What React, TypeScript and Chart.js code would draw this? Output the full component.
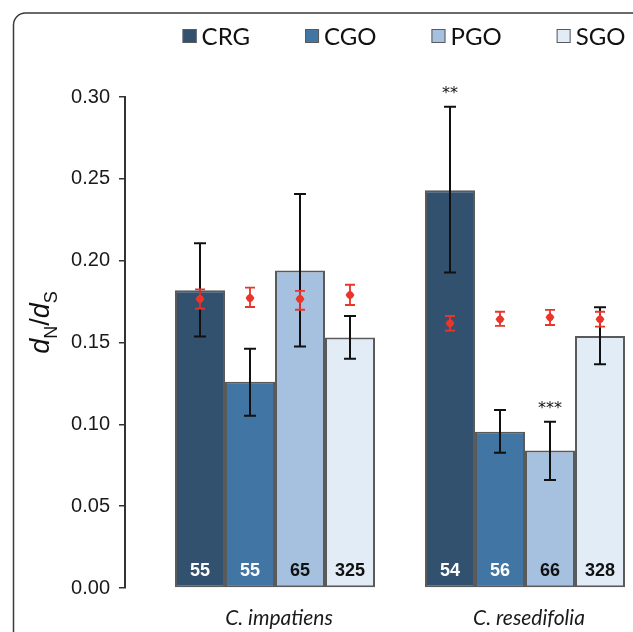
import React, { useEffect, useRef } from 'react';
import { Chart, registerables } from 'chart.js';

Chart.register(...registerables);

// ---- data ----
const categories = ['C. impatiens', 'C. resedifolia'];
const groupPositions = [1, 2];
const seriesNames = ['CRG', 'CGO', 'PGO', 'SGO'];
const seriesColors = ['#32516F', '#4175A4', '#A5C1DF', '#E2ECF6'];
const countColors = ['#FFFFFF', '#FFFFFF', '#111111', '#111111'];

const crgValues = [0.182, 0.243];
const cgoValues = [0.126, 0.0955];
const pgoValues = [0.194, 0.084];
const sgoValues = [0.153, 0.154];

const crgErrLow = [0.1536, 0.1927];
const crgErrHigh = [0.2106, 0.294];
const cgoErrLow = [0.1053, 0.0827];
const cgoErrHigh = [0.1462, 0.1088];
const pgoErrLow = [0.1475, 0.066];
const pgoErrHigh = [0.2407, 0.1016];
const sgoErrLow = [0.14, 0.1367];
const sgoErrHigh = [0.1662, 0.1715];

const crgNeutral = [0.1766, 0.1617];
const cgoNeutral = [0.1772, 0.1642];
const pgoNeutral = [0.1766, 0.1654];
const sgoNeutral = [0.179, 0.1642];
const crgNeutralLow = [0.1707, 0.1572];
const crgNeutralHigh = [0.1825, 0.1662];
const cgoNeutralLow = [0.1717, 0.1601];
const cgoNeutralHigh = [0.1835, 0.1688];
const pgoNeutralLow = [0.17, 0.1607];
const pgoNeutralHigh = [0.1815, 0.1699];
const sgoNeutralLow = [0.1729, 0.1597];
const sgoNeutralHigh = [0.1853, 0.1688];

const crgCounts = [55, 54];
const cgoCounts = [55, 56];
const pgoCounts = [65, 66];
const sgoCounts = [325, 328];

const crgSignif = ['', '**'];
const cgoSignif = ['', ''];
const pgoSignif = ['', '***'];
const sgoSignif = ['', ''];

const yMin = 0;
const yMax = 0.3;
const yStep = 0.05;

const seriesValues = [crgValues, cgoValues, pgoValues, sgoValues];
const seriesErrLow = [crgErrLow, cgoErrLow, pgoErrLow, sgoErrLow];
const seriesErrHigh = [crgErrHigh, cgoErrHigh, pgoErrHigh, sgoErrHigh];
const seriesNeutral = [crgNeutral, cgoNeutral, pgoNeutral, sgoNeutral];
const seriesNeutralLow = [crgNeutralLow, cgoNeutralLow, pgoNeutralLow, sgoNeutralLow];
const seriesNeutralHigh = [crgNeutralHigh, cgoNeutralHigh, pgoNeutralHigh, sgoNeutralHigh];
const seriesCounts = [crgCounts, cgoCounts, pgoCounts, sgoCounts];
const seriesSignif = [crgSignif, cgoSignif, pgoSignif, sgoSignif];

const framePlugin = {
  id: 'frame',
  beforeDraw(chart: any) {
    const ctx = chart.ctx;
    ctx.save();
    ctx.fillStyle = '#FFFFFF';
    ctx.fillRect(0, 0, chart.width, chart.height);
    ctx.strokeStyle = '#3A3A3A';
    ctx.lineWidth = 1.5;
    const x = 13.5, y = 13, r = 12, w = chart.width + 40, h = chart.height + 40;
    ctx.beginPath();
    ctx.moveTo(x + r, y);
    ctx.lineTo(x + w, y);
    ctx.moveTo(x, y + h);
    ctx.lineTo(x, y + r);
    ctx.arcTo(x, y, x + r, y, r);
    ctx.stroke();
    ctx.restore();
  },
};

const legendPlugin = {
  id: 'customLegend',
  afterDraw(chart: any) {
    const ctx = chart.ctx;
    ctx.save();
    ctx.font = '24px Lato';
    const box = 14;
    const gapText = 5;
    const gapItem = 55;
    const widths = seriesNames.map((n) => box + gapText + ctx.measureText(n).width);
    const total = widths.reduce((a, b) => a + b, 0) + gapItem * (seriesNames.length - 1);
    let x = 404 - total / 2;
    const cy = 36;
    ctx.textBaseline = 'middle';
    ctx.textAlign = 'left';
    seriesNames.forEach((n, i) => {
      ctx.fillStyle = seriesColors[i];
      ctx.fillRect(x, cy - box / 2, box, box);
      ctx.strokeStyle = '#5A5A5A';
      ctx.lineWidth = 1;
      ctx.strokeRect(x + 0.5, cy - box / 2 + 0.5, box - 1, box - 1);
      ctx.fillStyle = '#111111';
      ctx.fillText(n, x + box + gapText, cy + 1);
      x += widths[i] + gapItem;
    });
    ctx.restore();
  },
};

const yTitlePlugin = {
  id: 'yTitle',
  afterDraw(chart: any) {
    const ctx = chart.ctx;
    const area = chart.chartArea;
    const parts = [
      { t: 'd', font: 'italic 27px "Liberation Sans"', dy: 0 },
      { t: 'N', font: '18px "Liberation Sans"', dy: 8 },
      { t: '/', font: '27px "Liberation Sans"', dy: 0 },
      { t: 'd', font: 'italic 27px "Liberation Sans"', dy: 0 },
      { t: 'S', font: '18px "Liberation Sans"', dy: 8 },
    ];
    ctx.save();
    const widths = parts.map((p) => {
      ctx.font = p.font;
      return ctx.measureText(p.t).width;
    });
    const total = widths.reduce((a, b) => a + b, 0);
    ctx.translate(area.left - 76, (area.top + area.bottom) / 2 - 20);
    ctx.rotate(-Math.PI / 2);
    ctx.fillStyle = '#111111';
    ctx.textBaseline = 'alphabetic';
    ctx.textAlign = 'left';
    let x = -total / 2;
    parts.forEach((p, i) => {
      ctx.font = p.font;
      ctx.fillText(p.t, x, p.dy);
      x += widths[i];
    });
    ctx.restore();
  },
};

const annotationsPlugin = {
  id: 'barAnnotations',
  afterDatasetsDraw(chart: any) {
    const ctx = chart.ctx;
    const yScale = chart.scales.y;
    const area = chart.chartArea;
    ctx.save();
    seriesNames.forEach((_, si) => {
      const meta = chart.getDatasetMeta(si);
      meta.data.forEach((bar: any, gi: number) => {
        const x = bar.x;
        // black error bar
        const yl = yScale.getPixelForValue(seriesErrLow[si][gi]);
        const yh = yScale.getPixelForValue(seriesErrHigh[si][gi]);
        ctx.strokeStyle = '#111111';
        ctx.lineWidth = 2;
        ctx.beginPath();
        ctx.moveTo(x, yl);
        ctx.lineTo(x, yh);
        ctx.moveTo(x - 6, yl);
        ctx.lineTo(x + 6, yl);
        ctx.moveTo(x - 6, yh);
        ctx.lineTo(x + 6, yh);
        ctx.stroke();
        // red neutral expectation
        const nl = yScale.getPixelForValue(seriesNeutralLow[si][gi]);
        const nh = yScale.getPixelForValue(seriesNeutralHigh[si][gi]);
        const nm = yScale.getPixelForValue(seriesNeutral[si][gi]);
        ctx.strokeStyle = '#E8362B';
        ctx.lineWidth = 1.8;
        ctx.beginPath();
        ctx.moveTo(x, nl);
        ctx.lineTo(x, nh);
        ctx.moveTo(x - 5, nl);
        ctx.lineTo(x + 5, nl);
        ctx.moveTo(x - 5, nh);
        ctx.lineTo(x + 5, nh);
        ctx.stroke();
        ctx.fillStyle = '#E8362B';
        ctx.beginPath();
        ctx.moveTo(x, nm - 5);
        ctx.lineTo(x + 4.5, nm);
        ctx.lineTo(x, nm + 5);
        ctx.lineTo(x - 4.5, nm);
        ctx.closePath();
        ctx.fill();
        ctx.beginPath();
        ctx.arc(x, nm, 3.6, 0, Math.PI * 2);
        ctx.fill();
        // counts
        ctx.font = 'bold 18px "Liberation Sans"';
        ctx.textAlign = 'center';
        ctx.textBaseline = 'middle';
        ctx.fillStyle = countColors[si];
        ctx.fillText(String(seriesCounts[si][gi]), x, area.bottom - 17);
        // significance
        const sig = seriesSignif[si][gi];
        if (sig) {
          ctx.font = '16px "DejaVu Sans"';
          ctx.fillStyle = '#111111';
          ctx.textBaseline = 'alphabetic';
          ctx.fillText(sig, x, yh - 9);
        }
      });
    });
    ctx.restore();
  },
};

export default function App() {
  const canvasRef = useRef<HTMLCanvasElement | null>(null);

  useEffect(() => {
    if (!canvasRef.current) return;
    const datasets = seriesNames.map((name, si) => ({
      label: name,
      data: groupPositions.map((x, gi) => ({ x, y: seriesValues[si][gi] })),
      backgroundColor: seriesColors[si],
      borderColor: '#5A5A5A',
      borderWidth: 2,
      borderSkipped: false,
      categoryPercentage: 0.8,
      barPercentage: 1.0,
    }));
    const chart = new Chart(canvasRef.current, {
      type: 'bar',
      data: { datasets },
      options: {
        animation: false,
        responsive: false,
        events: [],
        layout: { padding: { top: 97, left: 0, right: 0, bottom: 0 } },
        plugins: {
          legend: { display: false },
          tooltip: { enabled: false },
          title: { display: false },
        },
        scales: {
          x: {
            type: 'linear',
            min: 0.4,
            max: 2.432,
            offset: false,
            grid: { display: false, drawTicks: false },
            border: { display: false },
            afterBuildTicks: (scale: any) => {
              scale.ticks = groupPositions.map((v) => ({ value: v }));
            },
            afterFit: (scale: any) => {
              scale.height = 44;
            },
            ticks: {
              callback: (_v: any, i: number) => categories[i],
              font: { family: 'Lato', style: 'italic', size: 21 },
              color: '#1A1A1A',
              padding: 18,
              maxRotation: 0,
              labelOffset: 4,
            },
          },
          y: {
            min: yMin,
            max: yMax,
            afterFit: (scale: any) => {
              scale.width = 125;
            },
            grid: {
              drawOnChartArea: false,
              drawTicks: true,
              tickLength: 6,
              color: '#333333',
              lineWidth: 1.5,
            },
            border: { display: true, color: '#333333', width: 2 },
            ticks: {
              stepSize: yStep,
              callback: (v: any) => Number(v).toFixed(2),
              font: { family: 'Liberation Sans', size: 20 },
              color: '#1A1A1A',
              padding: 9,
            },
          },
        },
      } as any,
      plugins: [framePlugin, legendPlugin, yTitlePlugin, annotationsPlugin],
    });
    return () => chart.destroy();
  }, []);

  return (
    <div style={{ position: 'fixed', left: 0, top: 0, width: 633, height: 632, background: '#fff' }}>
      <canvas ref={canvasRef} width={633} height={632} style={{ display: 'block' }} />
    </div>
  );
}
